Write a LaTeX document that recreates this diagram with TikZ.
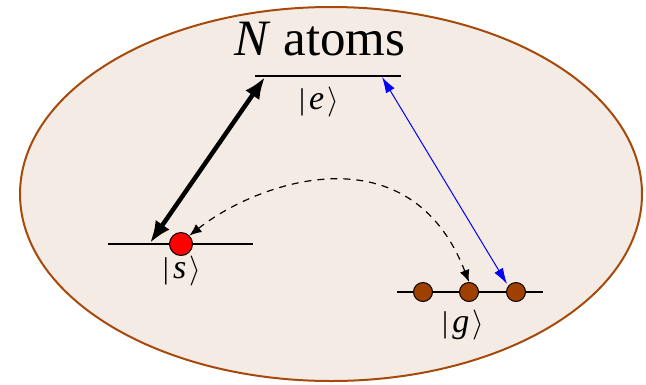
\RequirePackage{fix-cm}
\documentclass[tikz,border=0pt]{standalone}
\usepackage{fontspec}
\setmainfont{Liberation Serif}
\usetikzlibrary{arrows.meta}
\definecolor{cloudfill}{RGB}{244,235,228}
\definecolor{cloudedge}{RGB}{166,74,12}
\definecolor{atombrown}{RGB}{160,64,0}
\newcommand{\ketlbl}[1]{\textbar\hspace{0.14em}{\fontsize{34}{40}\selectfont\textit{#1}}\hspace{0.1em}$\rangle$}

\begin{document}
\begin{tikzpicture}[x=1pt, y=-1pt, line join=round]
  \useasboundingbox (0,0) rectangle (646,384);
  \tikzset{
    level/.style={line width=2pt},
    atom/.style={circle, draw=black, line width=1pt, inner sep=0pt, minimum size=19pt, fill=atombrown},
    ketlabel/.style={font=\fontsize{30}{36}\selectfont, inner sep=0pt}
  }

  % Cloud of atoms
  \draw[fill=cloudfill, draw=cloudedge, line width=2pt] (331,194) ellipse [x radius=311, y radius=187];
  \node[anchor=base, font=\fontsize{51}{60}\selectfont, inner sep=0pt] (title) at (320,55) {\textit{N} atoms};

  % Levels (left end, right end)
  \coordinate (eL) at (255,76);  \coordinate (eR) at (401,76);
  \coordinate (sL) at (108,244); \coordinate (sR) at (253,244);
  \coordinate (gL) at (397,292); \coordinate (gR) at (543,292);
  \draw[level] (eL) -- (eR);
  \draw[level] (sL) -- (sR);
  \draw[level] (gL) -- (gR);

  \node[ketlabel] (ketE) at (319,102) {\ketlbl{e}};
  \node[ketlabel] (ketS) at (182,271) {\ketlbl{s}};
  \node[ketlabel] (ketG) at (463,325) {\ketlbl{g}};

  % Atoms
  \node[atom, fill=red, minimum size=23pt] (sdot) at (181,244) {};
  \node[atom] (g1) at (423,292) {};
  \node[atom] (g2) at (469,292) {};
  \node[atom] (g3) at (516,292) {};

  % Strong field s <-> e
  \coordinate (sTip) at (150,243);
  \coordinate (eTipL) at (265,77);
  \draw[line width=4.5pt, {Latex[length=22pt,width=17pt]}-{Latex[length=22pt,width=17pt]}] (sTip) -- (eTipL);

  % Weak probe g <-> e
  \coordinate (eTipR) at (382,77);
  \coordinate (gTip) at (507,284);
  \draw[blue, line width=1pt, {Latex[length=16pt,width=10pt]}-{Latex[length=16pt,width=10pt]}] (eTipR) -- (gTip);

  % Transfer of an atom from g to s
  \draw[dashed, line width=1.2pt, dash pattern=on 7pt off 6pt, {Latex[length=12pt,width=10pt]}-{Latex[length=12pt,width=10pt]}]
    (sdot.north east) .. controls (260,180) and (410,130) .. (g2.north);
\end{tikzpicture}
\end{document}
